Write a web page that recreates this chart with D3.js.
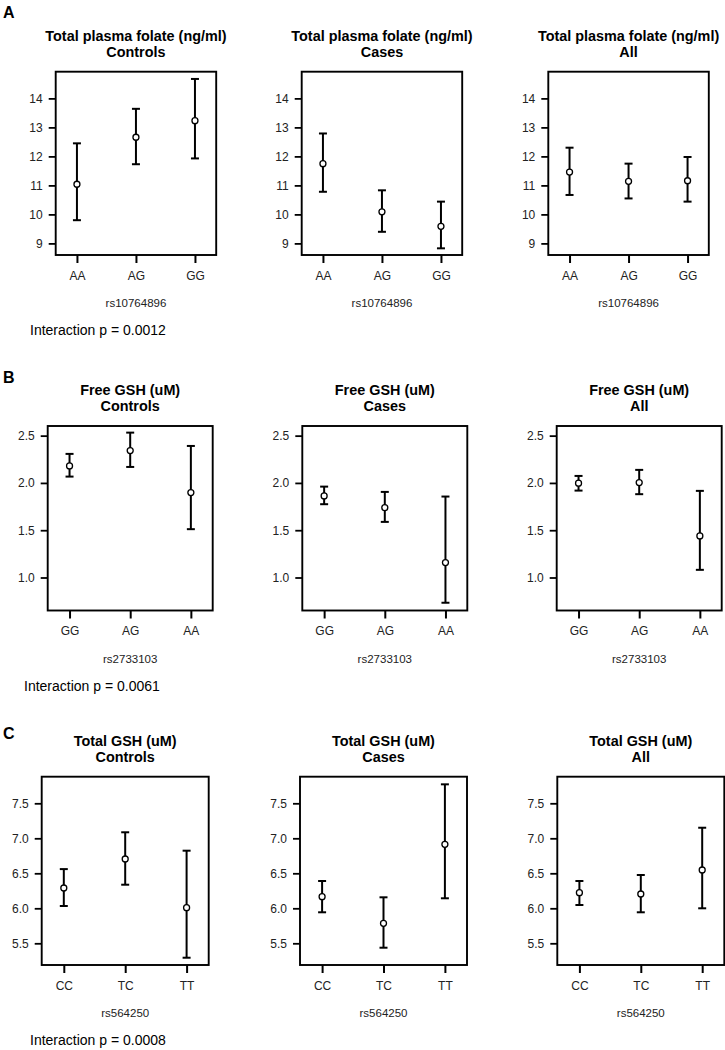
<!DOCTYPE html>
<head>
  <meta charset="utf-8">
  <script src="https://d3js.org/d3.v7.min.js"></script>
  <style>
    body { margin:0; background:white; }
    text { font-family: "Liberation Sans", Arial, sans-serif; }
    .title { font-weight: bold; font-size: 14.4px; fill: black; }
    .panelLetter { font-weight: bold; font-size: 16px; fill: black; }
    .tick text { font-size: 12px; fill: #222; }
    .xLabel { font-size: 11.5px; fill: #222; }
    .interaction { font-size: 14px; fill: black; }
  </style>
</head>

<body>
  <script>
    // chart values
    var panelLetters = ["A", "B", "C"];
    var measures = ["Total plasma folate (ng/ml)", "Free GSH (uM)", "Total GSH (uM)"];
    var groups = ["Controls", "Cases", "All"];
    var snps = ["rs10764896", "rs2733103", "rs564250"];
    var genotypes = [["AA", "AG", "GG"], ["GG", "AG", "AA"], ["CC", "TC", "TT"]];
    var interactionP = ["0.0012", "0.0061", "0.0008"];
    var yTicks = [[9, 10, 11, 12, 13, 14], [1.0, 1.5, 2.0, 2.5], [5.5, 6.0, 6.5, 7.0, 7.5]];
    var yDomains = [[8.6, 14.92], [0.651, 2.602], [5.19, 7.88]];
    var tickFormats = ["d", ".1f", ".1f"];

    // [row][group][genotype]
    var means = [
      [[11.04, 12.66, 13.23], [11.75, 10.09, 9.59], [11.46, 11.14, 11.16]],
      [[2.18, 2.342, 1.898], [1.863, 1.739, 1.158], [1.997, 2.004, 1.440]],
      [[6.29, 6.704, 6.009], [6.166, 5.786, 6.914], [6.223, 6.204, 6.547]]
    ];
    var lowers = [
      [[9.80, 11.73, 11.93], [10.78, 9.40, 8.83], [10.67, 10.55, 10.44]],
      [[2.067, 2.169, 1.511], [1.775, 1.588, 0.733], [1.919, 1.881, 1.081]],
      [[6.033, 6.337, 5.294], [5.943, 5.437, 6.143], [6.047, 5.943, 6.0]]
    ];
    var uppers = [
      [[12.45, 13.64, 14.67], [12.79, 10.83, 10.44], [12.30, 11.75, 11.98]],
      [[2.307, 2.532, 2.391], [1.961, 1.905, 1.856], [2.074, 2.138, 1.916]],
      [[6.56, 7.086, 6.823], [6.39, 6.157, 7.771], [6.39, 6.476, 7.151]]
    ];

    // layout of the plot boxes (pixels)
    var rowLayout = [
      {lefts: [55.7, 301.7, 548.3], width: 160.5, top: 71.7, bottom: 255, letterY: 18, pX: 30},
      {lefts: [47.7, 302.3, 556.7], width: 165, top: 426, bottom: 610.5, letterY: 383, pX: 24},
      {lefts: [41.7, 300, 557.3], width: 167, top: 776.7, bottom: 965, letterY: 739, pX: 30}
    ];

    var width = 725, height = 1050;
    var svg = d3.select("body").append("svg")
      .attr("width", width)
      .attr("height", height);

    function drawPanel(r, g) {
      var lay = rowLayout[r];
      var left = lay.lefts[g], w = lay.width;
      var h = lay.bottom - lay.top;

      var gp = svg.append("g")
        .attr("transform", `translate(${left},${lay.top})`);

      var x = d3.scalePoint().domain(genotypes[r]).range([0, w]).padding(0.36);
      var y = d3.scaleLinear().domain(yDomains[r]).range([h, 0]);

      // titles
      gp.append("text").attr("class", "title")
        .attr("x", w / 2).attr("y", -31)
        .attr("text-anchor", "middle")
        .text(measures[r]);
      gp.append("text").attr("class", "title")
        .attr("x", w / 2).attr("y", -15)
        .attr("text-anchor", "middle")
        .text(groups[g]);

      // axes
      var yAxis = d3.axisLeft(y).tickValues(yTicks[r])
        .tickFormat(d3.format(tickFormats[r]))
        .tickSizeOuter(0).tickSizeInner(7).tickPadding(6);
      var ya = gp.append("g").call(yAxis);
      ya.select(".domain").remove();
      ya.selectAll(".tick line").attr("stroke", "black").attr("stroke-width", 1.8);

      var xAxis = d3.axisBottom(x).tickSizeOuter(0).tickSizeInner(8).tickPadding(8);
      var xa = gp.append("g").attr("transform", `translate(0,${h})`).call(xAxis);
      xa.select(".domain").remove();
      xa.selectAll(".tick line").attr("stroke", "black").attr("stroke-width", 2);

      gp.append("text").attr("class", "xLabel")
        .attr("x", w / 2).attr("y", h + 52)
        .attr("text-anchor", "middle")
        .text(snps[r]);

      // box
      gp.append("rect")
        .attr("x", 0).attr("y", 0)
        .attr("width", w).attr("height", h)
        .attr("fill", "none").attr("stroke", "black").attr("stroke-width", 1.9);

      // error bars
      var rows = genotypes[r].map(function(k, i) {
        return {k: k, m: means[r][g][i], lo: lowers[r][g][i], hi: uppers[r][g][i]};
      });
      var cap = 4;
      var bars = gp.selectAll(".bar").data(rows).enter().append("g").attr("class", "bar");
      bars.append("line")
        .attr("x1", d => x(d.k)).attr("x2", d => x(d.k))
        .attr("y1", d => y(d.lo)).attr("y2", d => y(d.hi))
        .attr("stroke", "black").attr("stroke-width", 2);
      bars.append("line")
        .attr("x1", d => x(d.k) - cap).attr("x2", d => x(d.k) + cap)
        .attr("y1", d => y(d.hi)).attr("y2", d => y(d.hi))
        .attr("stroke", "black").attr("stroke-width", 2);
      bars.append("line")
        .attr("x1", d => x(d.k) - cap).attr("x2", d => x(d.k) + cap)
        .attr("y1", d => y(d.lo)).attr("y2", d => y(d.lo))
        .attr("stroke", "black").attr("stroke-width", 2);
      bars.append("circle")
        .attr("cx", d => x(d.k)).attr("cy", d => y(d.m))
        .attr("r", 3)
        .attr("fill", "white").attr("stroke", "black").attr("stroke-width", 1.3);
    }

    for (var r = 0; r < 3; r++) {
      svg.append("text").attr("class", "panelLetter")
        .attr("x", 3).attr("y", rowLayout[r].letterY)
        .text(panelLetters[r]);
      for (var g = 0; g < 3; g++) drawPanel(r, g);
      svg.append("text").attr("class", "interaction")
        .attr("x", rowLayout[r].pX).attr("y", rowLayout[r].bottom + 80)
        .text("Interaction p = " + interactionP[r]);
    }
  </script>
</body>
